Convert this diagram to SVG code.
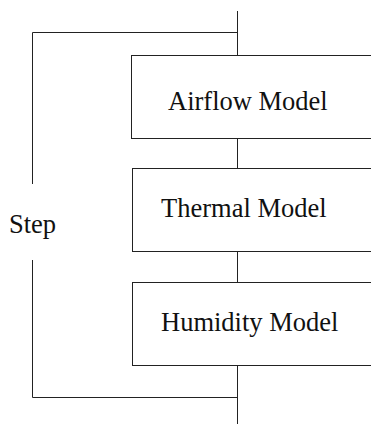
<svg xmlns="http://www.w3.org/2000/svg" width="371" height="425" viewBox="0 0 371 425">
<style>
.box{fill:#fff;stroke:#222;stroke-width:1}
.ln{fill:none;stroke:#222;stroke-width:1}
.t{font-family:"Liberation Serif","Times New Roman",serif;font-size:26.5px;fill:#111}
</style>
<rect width="371" height="425" fill="#fff"/>
<g id="connectors">
<path class="ln" d="M237.5 11 V55.5 M237.5 138.5 V168.5 M237.5 251.5 V282.5 M237.5 365.5 V424"/>
<path class="ln" d="M237.5 32.5 H32.5 V184 M32.5 260 V397.5 H237.5"/>
</g>
<g id="airflow">
<rect class="box" x="131.5" y="55.5" width="260" height="83"/>
<text class="t" x="168" y="110">Airflow Model</text>
</g>
<g id="thermal">
<rect class="box" x="132.5" y="168.5" width="260" height="83"/>
<text class="t" x="161" y="217">Thermal Model</text>
</g>
<g id="humidity">
<rect class="box" x="132.5" y="282.5" width="260" height="83"/>
<text class="t" x="161" y="331">Humidity Model</text>
</g>
<g id="step">
<text class="t" x="9" y="233">Step</text>
</g>
</svg>
